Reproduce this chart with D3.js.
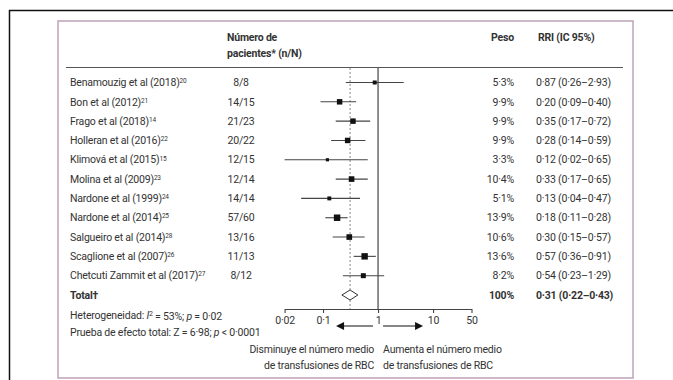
<!DOCTYPE html>
<html>
<head>
<meta charset="utf-8">
<script src="https://cdn.jsdelivr.net/npm/d3@7"></script>
<style>
  body { margin: 0; background: #fff; }
  svg text { font-family: Roboto, "Open Sans", sans-serif; fill: #333; letter-spacing: -0.2px; }
</style>
</head>
<body>
<svg width="673" height="380"></svg>
<script>
var studies = ["Benamouzig et al (2018)", "Bon et al (2012)", "Frago et al (2018)", "Holleran et al (2016)",
               "Klimová et al (2015)", "Molina et al (2009)", "Nardone et al (1999)", "Nardone et al (2014)",
               "Salgueiro et al (2014)", "Scaglione et al (2007)", "Chetcuti Zammit et al (2017)"];
var refs = ["20", "21", "14", "22", "15", "23", "24", "25", "28", "26", "27"];
var patients = ["8/8", "14/15", "21/23", "20/22", "12/15", "12/14", "14/14", "57/60", "13/16", "11/13", "8/12"];
var weights = [5.3, 9.9, 9.9, 9.9, 3.3, 10.4, 5.1, 13.9, 10.6, 13.6, 8.2];
var rr = [0.87, 0.20, 0.35, 0.28, 0.12, 0.33, 0.13, 0.18, 0.30, 0.57, 0.54];
var lo = [0.26, 0.09, 0.17, 0.14, 0.02, 0.17, 0.04, 0.11, 0.15, 0.36, 0.23];
var hi = [2.93, 0.40, 0.72, 0.59, 0.65, 0.65, 0.47, 0.28, 0.57, 0.91, 1.29];
var total = {rr: 0.31, lo: 0.22, hi: 0.43};
var ticks = [0.02, 0.1, 1, 10, 50];

var svg = d3.select("svg");
var fs = "10.5px";

function dot(v, d) {
    return v.toFixed(d).replace(".", "·");
}

// marcos
svg.append("path").attr("d", "M9.5,380V10.5H673").attr("fill", "none")
    .attr("stroke", "#111").attr("stroke-width", 1.5);
svg.append("rect").attr("x", 58).attr("y", 21).attr("width", 575).attr("height", 357)
    .attr("fill", "none").attr("stroke", "#bfa3b8").attr("stroke-width", 1.5);

var x = d3.scaleLog().domain([0.02, 50]).range([284.6, 471.5]);
var y = d3.scaleLinear().domain([0, 11]).range([82.5, 295]);
var size = d3.scaleSqrt().domain([0, 14]).range([0, 6.5]);

// cabecera
var head = svg.append("g").style("font-weight", "bold").style("font-size", fs);
head.append("text").attr("x", 227).attr("y", 41).text("Número de");
head.append("text").attr("x", 227).attr("y", 57).text("pacientes* (n/N)");
head.append("text").attr("x", 514).attr("y", 41).attr("text-anchor", "end").text("Peso");
head.append("text").attr("x", 538).attr("y", 41).text("RRI (IC 95%)");

svg.append("line").attr("x1", 66).attr("x2", 623).attr("y1", 67.5).attr("y2", 67.5)
    .attr("stroke", "#555").attr("stroke-width", 1);

// lineas de referencia
svg.append("line").attr("x1", x(1)).attr("x2", x(1)).attr("y1", 68).attr("y2", 309)
    .attr("stroke", "#444").attr("stroke-width", 1.2);
svg.append("line").attr("x1", x(total.rr)).attr("x2", x(total.rr)).attr("y1", 68).attr("y2", 309)
    .attr("stroke", "#888").attr("stroke-width", 1).attr("stroke-dasharray", "2,2");

// filas
var rows = svg.append("g").selectAll("g").data(studies).enter().append("g")
    .attr("transform", function(d, i) { return "translate(0," + y(i) + ")"; })
    .style("font-size", fs);

var studyText = rows.append("text").attr("x", 70).attr("dy", "0.35em");
studyText.append("tspan").text(function(d) { return d; });
studyText.append("tspan").attr("dy", "-0.45em").style("font-size", "6.5px")
    .text(function(d, i) { return refs[i]; });

rows.append("text").attr("x", 241).attr("dy", "0.35em").attr("text-anchor", "middle")
    .text(function(d, i) { return patients[i]; });

rows.append("line")
    .attr("x1", function(d, i) { return x(lo[i]); })
    .attr("x2", function(d, i) { return x(hi[i]); })
    .attr("stroke", "#444").attr("stroke-width", 1.1);

rows.append("rect")
    .attr("x", function(d, i) { return x(rr[i]) - size(weights[i]) / 2; })
    .attr("y", function(d, i) { return -size(weights[i]) / 2; })
    .attr("width", function(d, i) { return size(weights[i]); })
    .attr("height", function(d, i) { return size(weights[i]); })
    .attr("fill", "#111");

rows.append("text").attr("x", 514).attr("dy", "0.35em").attr("text-anchor", "end")
    .text(function(d, i) { return dot(weights[i], 1) + "%"; });

rows.append("text").attr("x", 536).attr("dy", "0.35em")
    .text(function(d, i) { return dot(rr[i], 2) + " (" + dot(lo[i], 2) + "–" + dot(hi[i], 2) + ")"; });

// total
var yt = y(11);
svg.append("text").attr("x", 70).attr("y", yt).attr("dy", "0.35em")
    .style("font-weight", "bold").style("font-size", fs).text("Total†");
svg.append("path")
    .attr("d", "M" + x(total.lo) + "," + yt + "L" + x(total.rr) + "," + (yt - 5) +
               "L" + x(total.hi) + "," + yt + "L" + x(total.rr) + "," + (yt + 5) + "Z")
    .attr("fill", "#fff").attr("stroke", "#333").attr("stroke-width", 1);
svg.append("text").attr("x", 514).attr("y", yt).attr("dy", "0.35em").attr("text-anchor", "end")
    .style("font-weight", "bold").style("font-size", fs).text("100%");
svg.append("text").attr("x", 536).attr("y", yt).attr("dy", "0.35em")
    .style("font-weight", "bold").style("font-size", fs)
    .text(dot(total.rr, 2) + " (" + dot(total.lo, 2) + "–" + dot(total.hi, 2) + ")");

// eje
var axis = svg.append("g").attr("transform", "translate(0,309)")
    .call(d3.axisBottom(x).tickValues(ticks).tickSize(4).tickSizeOuter(0)
        .tickFormat(function(d) { return String(d).replace(".", "·"); }));
axis.selectAll("path, line").attr("stroke", "#444").attr("stroke-width", 1.1);
axis.selectAll("text").style("font-size", fs).attr("fill", "#333").attr("y", 8)
    .style("font-family", "Roboto, \"Open Sans\", sans-serif");

// heterogeneidad
var het = svg.append("text").attr("x", 70).attr("y", 315).attr("dy", "0.35em").style("font-size", fs);
het.append("tspan").text("Heterogeneidad: ");
het.append("tspan").style("font-style", "italic").text("I");
het.append("tspan").attr("dy", "-0.4em").style("font-size", "7px").text("2");
het.append("tspan").attr("dy", "0.4em").text(" = 53%; ");
het.append("tspan").style("font-style", "italic").text("p");
het.append("tspan").text(" = 0·02");

var pr = svg.append("text").attr("x", 70).attr("y", 332).attr("dy", "0.35em").style("font-size", fs);
pr.append("tspan").text("Prueba de efecto total: Z = 6·98; ");
pr.append("tspan").style("font-style", "italic").text("p");
pr.append("tspan").text(" < 0·0001");

// flechas
var ya = 326;
svg.append("path")
    .attr("d", "M" + (x(1) - 5) + "," + ya + "H" + (x(1) - 40))
    .attr("stroke", "#111").attr("stroke-width", 1.2);
svg.append("path")
    .attr("d", "M" + (x(1) - 42) + "," + ya + "l8,-4v8Z").attr("fill", "#111");
svg.append("path")
    .attr("d", "M" + (x(1) + 5) + "," + ya + "H" + (x(1) + 40))
    .attr("stroke", "#111").attr("stroke-width", 1.2);
svg.append("path")
    .attr("d", "M" + (x(1) + 45) + "," + ya + "l-8,-4v8Z").attr("fill", "#111");

var lab = svg.append("g").style("font-size", fs);
lab.append("text").attr("x", x(1) - 4).attr("y", 349).attr("dy", "0.35em").attr("text-anchor", "end")
    .text("Disminuye el número medio");
lab.append("text").attr("x", x(1) - 4).attr("y", 365).attr("dy", "0.35em").attr("text-anchor", "end")
    .text("de transfusiones de RBC");
lab.append("text").attr("x", x(1) + 5).attr("y", 349).attr("dy", "0.35em")
    .text("Aumenta el número medio");
lab.append("text").attr("x", x(1) + 5).attr("y", 365).attr("dy", "0.35em")
    .text("de transfusiones de RBC");
</script>
</body>
</html>
